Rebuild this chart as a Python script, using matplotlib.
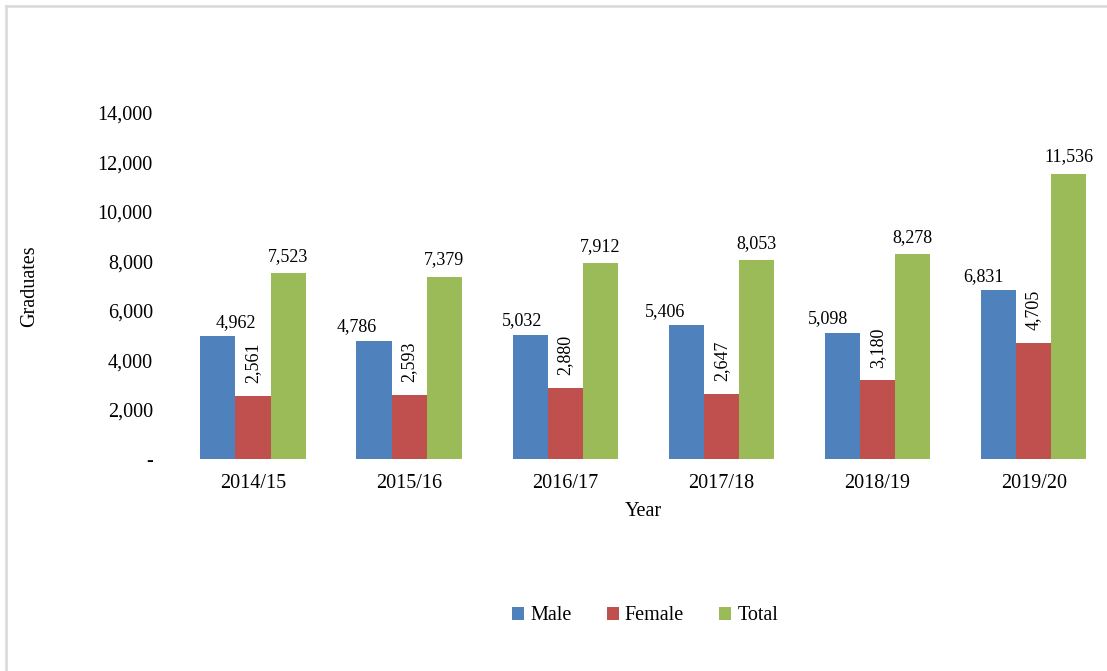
import numpy as np
import matplotlib.pyplot as plt
from matplotlib.lines import Line2D

years = ['2014/15', '2015/16', '2016/17', '2017/18', '2018/19', '2019/20']
male = [4962, 4786, 5032, 5406, 5098, 6831]
female = [2561, 2593, 2880, 2647, 3180, 4705]
total = [7523, 7379, 7912, 8053, 8278, 11536]

colors = ['#4f81bd', '#c0504d', '#9bbb59']
# nudge of the male labels, in category units (as placed in the original)
male_nudge = [0.115, -0.11, -0.05, -0.135, -0.095, -0.095]

plt.rcParams['font.family'] = ['Liberation Serif', 'DejaVu Serif']

fig = plt.figure(figsize=(11.07, 6.71), dpi=100)
ax = fig.add_axes([175 / 1107, 212 / 671, 932 / 1107, 346 / 671])

x = np.arange(len(years))
w = 0.225
bm = ax.bar(x - w, male, w, color=colors[0], label='Male')
bf = ax.bar(x, female, w, color=colors[1], label='Female')
bt = ax.bar(x + w, total, w, color=colors[2], label='Total')

for i in range(len(years)):
    ax.annotate(f'{male[i]:,}', (x[i] - w + male_nudge[i], male[i]), xytext=(0, 4),
                textcoords='offset points', ha='center', va='bottom', fontsize=13)
    ax.annotate(f'{female[i]:,}', (x[i], female[i]), xytext=(0, 9),
                textcoords='offset points', ha='center', va='bottom', fontsize=13,
                rotation=90)
    ax.annotate(f'{total[i]:,}', (x[i] + w, total[i]), xytext=(0, 6),
                textcoords='offset points', ha='center', va='bottom', fontsize=13)

ax.set_xlim(-0.5, 5.47)
ax.set_ylim(0, 14000)
ax.set_yticks(np.arange(0, 14001, 2000))
ax.set_yticklabels(['-'] + [f'{v:,}' for v in range(2000, 14001, 2000)], fontsize=14.5)
ax.set_xticks(x)
ax.set_xticklabels(years, fontsize=14.5)
ax.tick_params(length=0, pad=16)
ax.tick_params(axis='x', pad=11)
for s in ax.spines.values():
    s.set_visible(False)

fig.text(30 / 1107, 1 - 286 / 671, 'Graduates', rotation=90, ha='center', va='center', fontsize=14.5)
fig.text(643 / 1107, 1 - 512 / 671, 'Year', ha='center', va='center', fontsize=14.5)

fig.legend(handles=[bm, bf, bt], loc='center', bbox_to_anchor=(645 / 1107, 1 - 616 / 671),
           ncol=3, frameon=False, fontsize=14.5, handlelength=0.6, handleheight=0.6,
           handletextpad=0.3, columnspacing=1.75)

# light frame of the chart box (top and left edges visible)
fig.add_artist(Line2D([6 / 1107, 1], [1 - 6 / 671, 1 - 6 / 671], color='#d9d9d9', lw=1.8))
fig.add_artist(Line2D([6 / 1107, 6 / 1107], [0, 1 - 6 / 671], color='#d9d9d9', lw=1.8))

fig.savefig('out.png', dpi=100)
